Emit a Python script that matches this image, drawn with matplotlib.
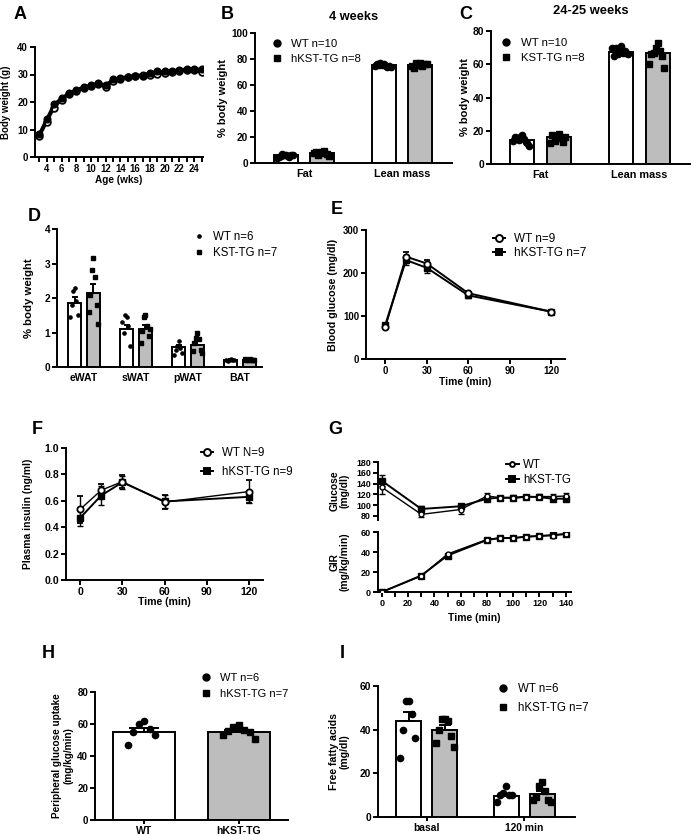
import numpy as np
import matplotlib
matplotlib.use("Agg")
import matplotlib.pyplot as plt
from matplotlib.lines import Line2D

plt.rcParams['font.family'] = ['Liberation Sans', 'DejaVu Sans']
plt.rcParams['font.weight'] = 'bold'
plt.rcParams['axes.labelweight'] = 'bold'

# ---------------- data ----------------
# A: body weight
ages = list(range(3, 26))
bw_wt = [7.5, 12.8, 18.0, 20.8, 22.8, 24.0, 25.2, 25.8, 26.5, 25.3, 27.6, 28.5,
         29.0, 29.3, 29.6, 30.0, 30.3, 30.7, 31.0, 31.3, 31.5, 31.5, 30.8]
bw_tg = [8.5, 14.0, 19.2, 21.5, 23.2, 24.5, 25.5, 26.2, 26.9, 26.2, 28.3, 28.9,
         29.2, 29.6, 30.0, 30.5, 31.2, 31.2, 31.3, 31.8, 32.0, 32.1, 32.0]

# B: body composition 4 weeks
comp_groups = ["Fat", "Lean mass"]
comp4_wt_mean = [6.0, 75.3]
comp4_wt_sem = [0.4, 0.4]
comp4_tg_mean = [8.0, 75.5]
comp4_tg_sem = [0.5, 0.4]
comp4_wt_pts = [[6.5, 5.8, 5.2, 6.8, 4.5, 5.5, 6.2, 4.8, 5.9, 3.8],
                [76.5, 75.2, 74.8, 77.2, 73.9, 75.6, 74.3, 76.1, 73.5, 75.0]]
comp4_tg_pts = [[8.5, 7.8, 8.9, 6.5, 7.2, 8.1, 5.5, 7.7],
                [76.8, 75.5, 74.6, 77.0, 75.9, 73.2, 76.2, 75.0]]

# C: body composition 24-25 weeks
comp24_wt_mean = [14.6, 67.5]
comp24_wt_sem = [0.6, 0.7]
comp24_tg_mean = [16.3, 66.5]
comp24_tg_sem = [0.7, 1.8]
comp24_wt_pts = [[17.5, 16.2, 15.0, 14.2, 13.5, 15.8, 12.8, 16.5, 11.0, 13.8],
                 [71.0, 69.0, 67.0, 66.0, 68.0, 70.0, 67.0, 65.0, 66.0, 70.0]]
comp24_tg_pts = [[17.8, 16.8, 15.5, 14.0, 13.2, 17.2, 16.0, 12.8],
                 [73.0, 70.0, 68.0, 67.0, 65.0, 66.0, 58.0, 60.0]]

# D: fat depots
depots = ["eWAT", "sWAT", "pWAT", "BAT"]
depot_wt_mean = [1.85, 1.10, 0.57, 0.21]
depot_wt_sem = [0.17, 0.13, 0.06, 0.01]
depot_tg_mean = [2.15, 1.10, 0.65, 0.21]
depot_tg_sem = [0.27, 0.11, 0.09, 0.01]
depot_wt_pts = [[2.3, 2.2, 1.9, 1.8, 1.5, 1.45],
                [1.45, 1.5, 1.2, 1.0, 0.6, 1.3],
                [0.75, 0.6, 0.55, 0.5, 0.4, 0.35],
                [0.22, 0.2, 0.2, 0.18, 0.21, 0.19]]
depot_tg_pts = [[3.15, 2.8, 2.6, 2.1, 1.8, 1.6, 1.25],
                [1.5, 1.45, 1.2, 1.05, 0.9, 0.7, 1.1],
                [1.0, 0.85, 0.8, 0.7, 0.5, 0.45, 0.4],
                [0.22, 0.2, 0.21, 0.19, 0.2, 0.22, 0.2]]

# E: glucose tolerance
ogtt_time = [0, 15, 30, 60, 120]
ogtt_wt = [75, 238, 222, 153, 110]
ogtt_wt_err = [4, 10, 8, 5, 4]
ogtt_tg = [80, 230, 212, 148, 110]
ogtt_tg_err = [4, 12, 12, 6, 4]

# F: plasma insulin
ins_time = [0, 15, 30, 60, 120]
ins_wt = [0.535, 0.68, 0.745, 0.59, 0.67]
ins_wt_err = [0.10, 0.05, 0.05, 0.055, 0.085]
ins_tg = [0.47, 0.64, 0.74, 0.595, 0.63]
ins_tg_err = [0.06, 0.07, 0.05, 0.05, 0.045]

# G: clamp
clamp_time = [0, 30, 60, 80, 90, 100, 110, 120, 130, 140]
clamp_glu_wt = [133, 83, 92, 117, 114, 113, 115, 116, 116, 117]
clamp_glu_wt_err = [12, 4, 8, 6, 3, 4, 4, 4, 5, 5]
clamp_glu_tg = [145, 93, 98, 112, 114, 114, 116, 115, 112, 112]
clamp_glu_tg_err = [10, 5, 5, 5, 3, 4, 3, 4, 4, 4]
gir_time = [0, 30, 50, 80, 90, 100, 110, 120, 130, 140]
gir_wt = [0, 16, 38, 52.5, 54, 54, 55, 56, 56.5, 58]
gir_tg = [0, 16.5, 36.5, 52, 54, 54, 55.5, 56, 57, 58]

# H: peripheral glucose uptake
pgu_groups = ["WT", "hKST-TG"]
pgu_mean = [55.2, 54.8]
pgu_sem = [2.5, 1.3]
pgu_wt_pts = [62, 60, 57, 55, 53, 47]
pgu_tg_pts = [59.5, 58, 56, 55.5, 55, 53, 50.5]

# I: free fatty acids
ffa_groups = ["basal", "120 min"]
ffa_wt_mean = [44, 9.5]
ffa_wt_sem = [4.3, 1.2]
ffa_tg_mean = [40, 10.5]
ffa_tg_sem = [2.0, 1.6]
ffa_wt_pts = [[53, 53, 47, 40, 36, 27], [14, 11, 10, 10, 10, 7]]
ffa_tg_pts = [[45, 45, 44, 40, 37, 34, 32], [16, 14, 12, 9, 8, 8, 7]]

GRAY = "#bdbdbd"
LW = 1.4

# ---------------- helpers ----------------
W, H = 694, 835
fig = plt.figure(figsize=(W / 100, H / 100), dpi=100)


def add_ax(left, top, right, bottom):
    return fig.add_axes([left / W, 1 - bottom / H, (right - left) / W, (bottom - top) / H])


def style(ax, size=7.0):
    for s in ["top", "right"]:
        ax.spines[s].set_visible(False)
    for s in ["left", "bottom"]:
        ax.spines[s].set_linewidth(LW)
    ax.tick_params(which="both", width=LW, length=3.5, labelsize=size, pad=1.5)


def ylab(ax, text, right_px, size=7.5):
    ax.set_ylabel(text, fontsize=size, fontweight="bold", linespacing=1.1)
    bb = ax.get_position()
    ax.yaxis.set_label_coords((right_px - bb.x0 * W) / (bb.width * W), 0.5)


def xlab(ax, text, top_px, size=7.4):
    ax.set_xlabel(text, fontsize=size, fontweight="bold")
    bb = ax.get_position()
    top_ax = (1 - bb.y1) * H
    ax.xaxis.set_label_coords(0.5, 1 - (top_px - top_ax) / (bb.height * H))


def letter(x, y, s):
    fig.text(x / W, 1 - y / H, s, fontsize=13, fontweight="bold", va="top", ha="left")


def legend_at(ax, handles, labels, x_px, y_px, size=8.2, spacing=0.42, pad=0.75, hl=1.0):
    ax.legend(handles, labels, loc="upper left", bbox_to_anchor=(x_px / W, 1 - y_px / H),
              bbox_transform=fig.transFigure, frameon=False, borderpad=0, borderaxespad=0,
              handlelength=hl, handletextpad=pad, labelspacing=spacing,
              prop={"size": size, "weight": "normal"})


def spread(n, half):
    # centre-out scatter offsets (0, -1, +1, -2, +2, ...)
    k = np.arange(n)
    s = np.where(k % 2 == 0, 1, -1) * ((k + 1) // 2)
    return s / max(1, np.abs(s).max()) * half


def bar_panel(ax, groups, wm, ws, tm, ts, wp, tp, off, width, ms, cap, cat_size,
              mk_wt="o", mk_tg="s"):
    x = np.arange(len(groups))
    ax.bar(x - off, wm, width, color="white", edgecolor="black", linewidth=LW, zorder=2)
    ax.bar(x + off, tm, width, color=GRAY, edgecolor="black", linewidth=LW, zorder=2)
    for i in range(len(groups)):
        for pts, c, mk in ((wp[i], -off, mk_wt), (tp[i], off, mk_tg)):
            jit = spread(len(pts), 0.36 * width)
            ax.plot(x[i] + c + jit, pts, ls="none", marker=mk, ms=ms, color="black", zorder=3)
    ax.errorbar(x - off, wm, yerr=[np.zeros(len(ws)), ws], fmt="none", ecolor="black",
                elinewidth=LW, capsize=cap, capthick=LW, zorder=4)
    ax.errorbar(x + off, tm, yerr=[np.zeros(len(ts)), ts], fmt="none", ecolor="black",
                elinewidth=LW, capsize=cap, capthick=LW, zorder=4)
    ax.set_xticks(x)
    ax.set_xticklabels(groups)
    ax.tick_params(axis="x", length=0, pad=4, labelsize=cat_size)


def dot_handle(mk, ms=5):
    return Line2D([], [], ls="none", marker=mk, ms=ms, color="black")


def line_handle(mk, filled, ms=5):
    return Line2D([], [], color="black", lw=LW, marker=mk, ms=ms,
                  mfc="black" if filled else "white", mec="black", mew=LW)


# ---------------- A ----------------
ax = add_ax(35, 47, 203, 157)
style(ax, 6.9)
ax.plot(ages, bw_tg, color="black", lw=2, marker="o", ms=4.8, zorder=3)
ax.plot(ages, bw_wt, color="black", lw=2, marker="o", ms=4.8, mfc="white", mew=1.3, zorder=2)
ax.set_xlim(2.4, 25.2)
ax.set_ylim(0, 40)
ax.set_yticks([0, 10, 20, 30, 40])
ax.set_xticks(range(4, 25, 2))
ax.set_xticks(range(3, 26, 2), minor=True)
ylab(ax, "Body weight (g)", 11, 7.0)
xlab(ax, "Age (wks)", 175, 7.2)
letter(14, 6, "A")

# ---------------- B ----------------
ax = add_ax(255, 33, 452, 163)
style(ax, 7.2)
bar_panel(ax, comp_groups, comp4_wt_mean, comp4_wt_sem, comp4_tg_mean, comp4_tg_sem,
          comp4_wt_pts, comp4_tg_pts, 0.186, 0.245, 4.5, 3.5, 7.8)
ax.set_xlim(-0.5, 1.51)
ax.set_ylim(0, 100)
ax.set_yticks([0, 20, 40, 60, 80, 100])
ylab(ax, "% body weight", 228, 8.0)
ax.set_title("4 weeks", fontsize=9.2, fontweight="bold", pad=9)
legend_at(ax, [dot_handle("o"), dot_handle("s")], ["WT n=10", "hKST-TG n=8"], 271, 39,
          pad=0.73)
letter(221, 6, "B")

# ---------------- C ----------------
ax = add_ax(491, 31, 690, 164)
style(ax, 7.4)
bar_panel(ax, comp_groups, comp24_wt_mean, comp24_wt_sem, comp24_tg_mean, comp24_tg_sem,
          comp24_wt_pts, comp24_tg_pts, 0.186, 0.245, 4.5, 3.5, 7.8)
ax.set_xlim(-0.5, 1.51)
ax.set_ylim(0, 80)
ax.set_yticks([0, 20, 40, 60, 80])
ylab(ax, "% body weight", 470, 8.0)
ax.set_title("24-25 weeks", fontsize=9.3, fontweight="bold", pad=12)
legend_at(ax, [dot_handle("o"), dot_handle("s")], ["WT n=10", "KST-TG n=8"], 500, 38,
          pad=0.82)
letter(459, 6, "C")

# ---------------- D ----------------
ax = add_ax(57, 229, 262, 367)
style(ax, 7.3)
bar_panel(ax, depots, depot_wt_mean, depot_wt_sem, depot_tg_mean, depot_tg_sem,
          depot_wt_pts, depot_tg_pts, 0.18, 0.25, 2.3, 2.5, 7.6)
ax.set_xlim(-0.52, 3.42)
ax.set_ylim(0, 4)
ax.set_yticks([0, 1, 2, 3, 4])
ylab(ax, "% body weight", 34, 8.2)
legend_at(ax, [dot_handle("o", 2.3), dot_handle("s", 2.3)], ["WT n=6", "KST-TG n=7"],
          193, 231, size=8.3, pad=0.72, spacing=0.35)
letter(28, 208, "D")

# ---------------- E ----------------
ax = add_ax(366, 230, 565, 359)
style(ax, 6.9)
ax.errorbar(ogtt_time, ogtt_tg, yerr=ogtt_tg_err, color="black", lw=LW, marker="s", ms=4.5,
            capsize=2, capthick=1, elinewidth=1, zorder=2)
ax.errorbar(ogtt_time, ogtt_wt, yerr=ogtt_wt_err, color="black", lw=LW, marker="o", ms=4.5,
            mfc="white", mew=1.3, capsize=2, capthick=1, elinewidth=1, zorder=3)
ax.set_xlim(-14, 130)
ax.set_ylim(0, 300)
ax.set_xticks([0, 30, 60, 90, 120])
ax.set_yticks([0, 100, 200, 300])
ylab(ax, "Blood glucose (mg/dl)", 338, 7.7)
xlab(ax, "Time (min)", 377, 7.4)
legend_at(ax, [line_handle("o", False), line_handle("s", True)], ["WT n=9", "hKST-TG n=7"],
          493, 233, size=8.5, hl=1.0, pad=0.76, spacing=0.2)
letter(331, 201, "E")

# ---------------- F ----------------
ax = add_ax(66, 448, 263, 580)
style(ax, 7.6)
ax.errorbar(ins_time, ins_tg, yerr=ins_tg_err, color="black", lw=LW, marker="s", ms=4.5,
            capsize=2, capthick=1, elinewidth=1, zorder=2)
ax.errorbar(ins_time, ins_wt, yerr=ins_wt_err, color="black", lw=1, marker="o", ms=4.5,
            mfc="white", mew=1.3, capsize=2, capthick=1, elinewidth=1, zorder=3)
ax.set_xlim(-10, 130)
ax.set_ylim(0, 1.0)
ax.set_xticks([0, 30, 60, 90, 120])
ax.set_yticks([0, 0.2, 0.4, 0.6, 0.8, 1.0])
ax.set_yticklabels(["0.0", "0.2", "0.4", "0.6", "0.8", "1.0"])
ylab(ax, "Plasma insulin (ng/ml)", 33, 7.4)
xlab(ax, "Time (min)", 597, 7.6)
legend_at(ax, [line_handle("o", False), line_handle("s", True)], ["WT N=9", "hKST-TG n=9"],
          201, 447, size=8.3, hl=1.05, pad=0.78, spacing=0.62)
letter(32, 421, "F")

# ---------------- G ----------------
ax = add_ax(378, 462, 571, 520.3)
style(ax, 6.4)
ax.spines["bottom"].set_visible(False)
ax.tick_params(axis="x", which="both", bottom=False, labelbottom=False)
ax.errorbar(clamp_time, clamp_glu_tg, yerr=clamp_glu_tg_err, color="black", lw=LW, marker="s",
            ms=4.5, capsize=2, capthick=1, elinewidth=1, zorder=2)
ax.errorbar(clamp_time, clamp_glu_wt, yerr=clamp_glu_wt_err, color="black", lw=1, marker="o",
            ms=3.5, mfc="white", mew=1, capsize=2, capthick=1, elinewidth=1, zorder=3)
ax.set_xlim(-3, 144)
ax.set_ylim(72, 180)
ax.set_yticks([80, 100, 120, 140, 160, 180])
ylab(ax, "Glucose\n(mg/dl)", 350, 7.4)
legend_at(ax, [line_handle("o", False, 3.5), line_handle("s", True)], ["WT", "hKST-TG"],
          506, 459, size=8.3, hl=1.1, pad=0.4, spacing=0.3)

ax = add_ax(378, 532, 571, 592)
style(ax, 6.5)
ax.plot(gir_time, gir_tg, color="black", lw=LW, marker="s", ms=4.5, zorder=2)
ax.plot(gir_time, gir_wt, color="black", lw=1, marker="o", ms=3.5, mfc="white", mew=1, zorder=3)
ax.set_xlim(-3, 144)
ax.set_ylim(0, 60)
ax.set_yticks([0, 20, 40, 60])
ax.set_xticks(range(0, 141, 20))
ax.set_xticks(range(10, 141, 20), minor=True)
ylab(ax, "GIR\n(mg/kg/min)", 350, 7.4)
xlab(ax, "Time (min)", 613, 7.5)
letter(328, 421, "G")

# ---------------- H ----------------
ax = add_ax(95, 692, 288, 820)
style(ax, 7.0)
x = np.arange(len(pgu_groups))
ax.bar(x, pgu_mean, 0.66, color=["white", GRAY], edgecolor="black", linewidth=LW, zorder=2)
for i, (pts, mk) in enumerate(((pgu_wt_pts, "o"), (pgu_tg_pts, "s"))):
    jit = spread(len(pts), 0.17)
    ax.plot(x[i] + jit, pts, ls="none", marker=mk, ms=4.5, color="black", zorder=3)
ax.errorbar(x, pgu_mean, yerr=[[0, 0], pgu_sem], fmt="none", ecolor="black", elinewidth=LW,
            capsize=11, capthick=LW, zorder=4)
ax.set_xticks(x)
ax.set_xticklabels(pgu_groups)
ax.tick_params(axis="x", length=3, pad=1.5, labelsize=7.6)
ax.set_xlim(-0.52, 1.52)
ax.set_ylim(0, 80)
ax.set_yticks([0, 20, 40, 60, 80])
ylab(ax, "Peripheral glucose uptake\n(mg/kg/min)", 73, 7.2)
legend_at(ax, [dot_handle("o"), dot_handle("s")], ["WT n=6", "hKST-TG n=7"], 200, 673,
          size=8.0, pad=0.76, spacing=0.54)
letter(42, 645, "H")

# ---------------- I ----------------
ax = add_ax(378, 686, 575, 817)
style(ax, 7.4)
bar_panel(ax, ffa_groups, ffa_wt_mean, ffa_wt_sem, ffa_tg_mean, ffa_tg_sem,
          ffa_wt_pts, ffa_tg_pts, 0.186, 0.256, 4.5, 4, 7.4)
ax.tick_params(axis="x", length=3, pad=1.5)
ax.set_xlim(-0.5, 1.52)
ax.set_ylim(0, 60)
ax.set_yticks([0, 20, 40, 60])
ylab(ax, "Free fatty acids\n(mg/dl)", 350, 7.6)
legend_at(ax, [dot_handle("o"), dot_handle("s")], ["WT n=6", "hKST-TG n=7"], 497, 683,
          size=8.3, pad=0.81, spacing=0.62)
letter(340, 645, "I")

fig.savefig("out.png", dpi=100)
